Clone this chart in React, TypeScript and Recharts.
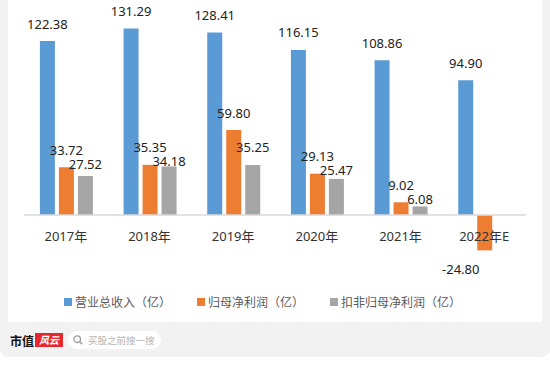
import React from 'react';
import { BarChart, Bar, XAxis, YAxis, Legend, LabelList, ReferenceLine } from 'recharts';

const years = ['2017年', '2018年', '2019年', '2020年', '2021年', '2022年E'];
const revenue = [122.38, 131.29, 128.41, 116.15, 108.86, 94.9];
const netProfit = [33.72, 35.35, 59.8, 29.13, 9.02, -24.8];
const deductedProfit = [27.52, 34.18, 35.25, 25.47, 6.08, null];

const seriesKeys = ['revenue', 'netProfit', 'deducted'];
const seriesNames = ['营业总收入（亿）', '归母净利润（亿）', '扣非归母净利润（亿）'];
const seriesColors = ['#5B9BD5', '#ED7D31', '#A5A5A5'];

const data = years.map((year, i) => ({
    year,
    revenue: revenue[i],
    netProfit: netProfit[i],
    deducted: deductedProfit[i],
}));

const FONT = "'Noto Sans', 'Noto Sans CJK SC', sans-serif";
const LABEL_GAP = 12.5;
const LINE_STEP = 14;

const labelText = (x: number, y: number, text: string) => (
    <text x={x} y={y} textAnchor="middle" fontSize={13} fill="#222" fontFamily={FONT}>
        {text}
    </text>
);

const makeValueLabel = (key: string) => (props: any) => {
    const vb = props.viewBox ?? props;
    const { x, y, width, height } = vb;
    const value = props.value;
    if (value == null) return null;
    const top = Math.min(y, y + height);
    const bottom = Math.max(y, y + height);
    const cx = x + width / 2;
    const text = Number(value).toFixed(2);
    // negative values sit below the bar, pushed to the left like the original
    if (value < 0) return labelText(cx - 24, bottom + 24, text);

    let baseY = top - LABEL_GAP;
    // keep the grey label from colliding with the orange one next to it
    if (key === 'deducted' && value > 0) {
        const other = netProfit[props.index];
        if (other != null && other > 0) {
            const perUnit = (bottom - top) / value;
            const otherY = bottom - other * perUnit - LABEL_GAP;
            baseY = Math.max(baseY, otherY + LINE_STEP);
        }
    }
    return labelText(cx, baseY, text);
};

// category labels sit just under the zero line, not under the plot
const CategoryTick = (props: any) => {
    const { x, y, payload } = props;
    return (
        <text x={x} y={y - 31} textAnchor="middle" fontSize={13} fill="#333" fontFamily={FONT}>
            {payload.value}
        </text>
    );
};

const renderLegend = () => (
    <div style={{ display: 'flex', alignItems: 'center', height: 20, paddingLeft: 56, fontFamily: FONT }}>
        {seriesNames.map((name, i) => (
            <div key={name} style={{ width: 133, display: 'flex', alignItems: 'center', fontSize: 12, color: '#595959' }}>
                <span style={{ display: 'inline-block', width: 8, height: 8, background: seriesColors[i], marginRight: 3 }} />
                {name}
            </div>
        ))}
    </div>
);

const SearchIcon = () => (
    <svg width={10} height={10} viewBox="0 0 10 10" style={{ marginRight: 5 }}>
        <circle cx={4.2} cy={4.2} r={3.3} fill="none" stroke="#999" strokeWidth={1.3} />
        <line x1={6.6} y1={6.6} x2={9.2} y2={9.2} stroke="#999" strokeWidth={1.4} />
    </svg>
);

export default function App() {
    return (
        <div style={{ position: 'relative', width: 550, height: 357, background: '#f2f2f2', borderRadius: '0 0 8px 8px', fontFamily: FONT }}>
            <style>{'body{margin:0;}'}</style>
            <div style={{ position: 'absolute', left: 8, top: 0, width: 534, height: 322, background: '#fff' }}>
                <BarChart
                    width={534}
                    height={322}
                    data={data}
                    margin={{ top: 16, right: 16, bottom: 10, left: 16 }}
                    barCategoryGap="19%"
                    barGap={4}
                >
                    <XAxis
                        dataKey="year"
                        height={20}
                        axisLine={false}
                        tickLine={false}
                        tickSize={0}
                        tickMargin={0}
                        interval={0}
                        tick={<CategoryTick />}
                    />
                    <YAxis hide domain={[-40, 140]} />
                    <ReferenceLine y={0} stroke="#d9d9d9" strokeWidth={1.5} />
                    {seriesKeys.map((key, i) => (
                        <Bar key={key} dataKey={key} name={seriesNames[i]} fill={seriesColors[i]} isAnimationActive={false}>
                            <LabelList dataKey={key} content={makeValueLabel(key)} />
                        </Bar>
                    ))}
                    <Legend verticalAlign="bottom" content={renderLegend} wrapperStyle={{ left: 0, width: 534 }} />
                </BarChart>
            </div>
            <div style={{ position: 'absolute', left: 10, top: 331, display: 'flex', alignItems: 'center', height: 18 }}>
                <span style={{ fontSize: 12, fontWeight: 700, color: '#111', fontFamily: "'Noto Sans CJK SC', sans-serif" }}>市值</span>
                <span style={{ marginLeft: 1, width: 28, height: 14, background: '#e8262d', color: '#fff', fontSize: 10, fontStyle: 'italic', fontWeight: 700, lineHeight: '14px', textAlign: 'center', fontFamily: "'Noto Sans CJK SC', sans-serif" }}>风云</span>
                <div style={{ marginLeft: 5, width: 93, height: 18, borderRadius: 9, background: '#fff', display: 'flex', alignItems: 'center', paddingLeft: 5, boxSizing: 'border-box' }}>
                    <SearchIcon />
                    <span style={{ fontSize: 9.5, color: '#b5b5b5', fontFamily: "'Noto Sans CJK SC', sans-serif" }}>买股之前搜一搜</span>
                </div>
            </div>
        </div>
    );
}
